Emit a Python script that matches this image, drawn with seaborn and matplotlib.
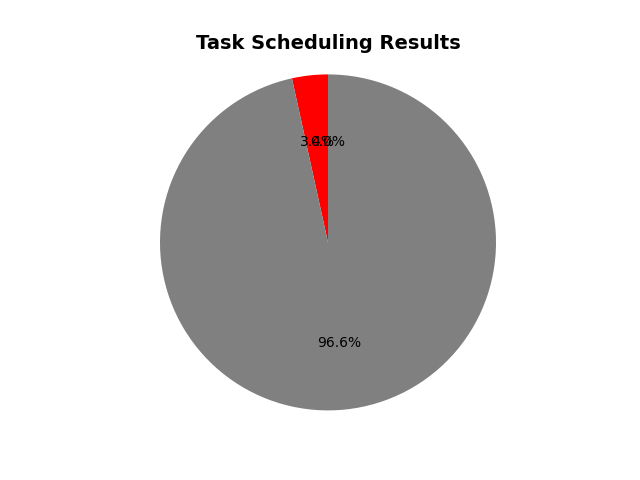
import matplotlib
matplotlib.use("Agg")
import matplotlib.pyplot as plt
import seaborn as sns

# task outcome counts
labels = ['Failed', 'Completed', 'Pending']
counts = [1, 28, 0]
colors = ['red', 'gray', 'green']

# keep matplotlib's plain look (no wedge edges, black text)
sns.reset_orig()
plt.rcParams['font.family'] = ['DejaVu Sans']

fig, ax = plt.subplots(figsize=(6.4, 4.8), dpi=100)
ax.pie(counts, colors=colors, autopct='%1.1f%%', startangle=90)
ax.axis('equal')
ax.set_title('Task Scheduling Results', fontsize=14, fontweight='bold')

plt.savefig('out.png')
